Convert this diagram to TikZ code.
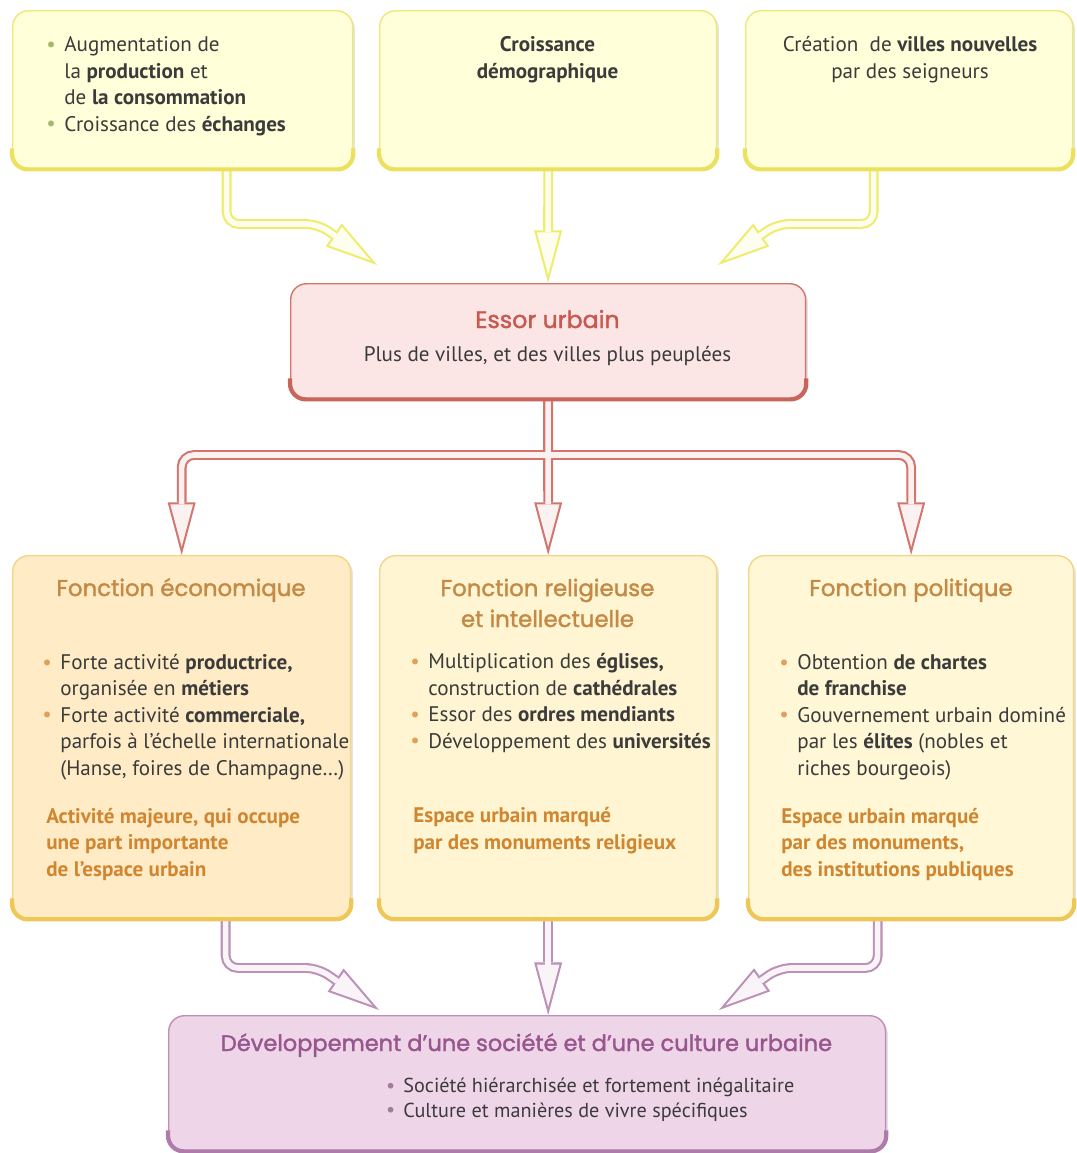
\documentclass[tikz,border=0pt]{standalone}
\usepackage{fontspec}
\setmainfont{PT Sans}
\newfontfamily\titlefont[FakeBold=1.6]{Poppins}
\usepackage{tikz}
\usetikzlibrary{arrows.meta, shadows}

\definecolor{texte}{HTML}{3B3B3B}
\definecolor{jauneBord}{HTML}{EDE977}
\definecolor{jauneSocle}{HTML}{ECE15E}
\definecolor{jauneFond}{HTML}{FFFFDA}
\definecolor{jauneFleche}{HTML}{EFEC6C}
\definecolor{rougeBord}{HTML}{D3756D}
\definecolor{rougeSocle}{HTML}{C9645B}
\definecolor{rougeFond}{HTML}{FBE6E5}
\definecolor{rougeTitre}{HTML}{C75A50}
\definecolor{orBord}{HTML}{F1D685}
\definecolor{orSocle}{HTML}{EEC757}
\definecolor{orFondA}{HTML}{FFEBC6}
\definecolor{orFondB}{HTML}{FFF5D2}
\definecolor{orFondC}{HTML}{FFF7D6}
\definecolor{ocre}{HTML}{C48A45}
\definecolor{conclu}{HTML}{D08630}
\definecolor{mauveBord}{HTML}{BC90B7}
\definecolor{mauveSocle}{HTML}{AF7BAA}
\definecolor{mauveFond}{HTML}{EFD5E8}
\definecolor{mauveTitre}{HTML}{98568F}
\definecolor{puceVert}{HTML}{A5B86C}
\definecolor{puceOr}{HTML}{DFA05A}
\definecolor{puceMauve}{HTML}{A27A9E}

\newcommand{\puce}[1]{\llap{\textcolor{#1}{\raisebox{0.05ex}{\textbullet}}\hspace{0.4em}}}

\tikzset{
  ombre/.style={drop shadow={shadow xshift=1.3pt, shadow yshift=-1.3pt, fill=black!35, opacity=0.3}},
  boite/.style={draw=#1, line width=0.8pt, rounded corners=9pt,
    anchor=north west, inner sep=0pt, ombre},
  socle/.style={draw=#1, line width=2.4pt, rounded corners=9pt},
  tuyau/.style={draw=#1, line width=5.6pt, rounded corners=7pt,
    -{Triangle[length=30pt, width=16pt, line width=0pt]}},
  creux/.style={draw=#1!10!white, line width=3.2pt, rounded corners=7pt, shorten >=4.65pt,
    -{Triangle[length=24.1pt, width=12.9pt, line width=0pt]}},
  corps/.style={text=texte, align=left, inner sep=0pt, anchor=base west,
    font=\fontsize{12}{15}\selectfont},
  conclusion/.style={corps, text=conclu, font=\fontsize{12}{15}\selectfont\bfseries},
  titre/.style={inner sep=0pt, anchor=base, align=center,
    font=\titlefont\fontsize{13}{17.6}\selectfont},
}

\begin{document}
\begin{tikzpicture}[x=0.02cm, y=-0.02cm]
  \useasboundingbox (0,0) rectangle (1076,1153);
  % causes
  \node[boite=jauneBord, fill=jauneFond, minimum width=6.8cm, minimum height=3.16cm] (prod) at (12,10) {};
  \node[boite=jauneBord, fill=jauneFond, minimum width=6.74cm, minimum height=3.16cm] (demo) at (379,10) {};
  \node[boite=jauneBord, fill=jauneFond, minimum width=6.54cm, minimum height=3.16cm] (villes) at (745,10) {};
  % essor
  \node[boite=rougeBord, fill=rougeFond, minimum width=10.3cm, minimum height=2.3cm] (essor) at (290,283) {};
  % fonctions
  \node[boite=orBord, fill=orFondA, minimum width=6.76cm, minimum height=7.26cm] (eco) at (12,555) {};
  \node[boite=orBord, fill=orFondB, minimum width=6.74cm, minimum height=7.26cm] (relig) at (379,555) {};
  \node[boite=orBord, fill=orFondC, minimum width=6.5cm, minimum height=7.26cm] (pol) at (748,555) {};
  % societe
  \node[boite=mauveBord, fill=mauveFond, minimum width=14.34cm, minimum height=2.7cm] (societe) at (168,1015) {};

  % textes (ancre base = derniere ligne)
  \node[corps] (prodTxt) at (64,131) {\puce{puceVert}Augmentation de\\la \textbf{production} et\\de \textbf{la consommation}\\\puce{puceVert}Croissance des \textbf{échanges}};
  \node[corps, anchor=base, align=center, font=\fontsize{12}{15}\selectfont\bfseries] (demoTxt) at (547.5,78) {Croissance\\démographique};
  \node[corps, anchor=base, align=center] (villesTxt) at (910,78) {Création~ de \textbf{villes nouvelles}\\par des seigneurs};

  \node[titre, text=rougeTitre, font=\titlefont\fontsize{13.5}{17.6}\selectfont] (essorTitre) at (547.5,328) {Essor urbain};
  \node[corps, anchor=base] (essorTxt) at (547.5,361) {Plus de villes, et des villes plus peuplées};

  \node[titre, text=ocre] (ecoTitre) at (181,596) {Fonction économique};
  \node[corps] (ecoTxt) at (60,775) {\puce{puceOr}Forte activité \textbf{productrice,}\\organisée en \textbf{métiers}\\\puce{puceOr}Forte activité \textbf{commerciale,}\\parfois à l'échelle internationale\\(Hanse, foires de Champagne\dots)};
  \node[conclusion] (ecoConclu) at (46,876) {Activité majeure, qui occupe\\une part importante\\de l'espace urbain};

  \node[titre, text=ocre] (religTitre) at (547.5,627) {Fonction religieuse\\et intellectuelle};
  \node[corps] (religTxt) at (428,748) {\puce{puceOr}Multiplication des \textbf{églises,}\\construction de \textbf{cathédrales}\\\puce{puceOr}Essor des \textbf{ordres mendiants}\\\puce{puceOr}Développement des \textbf{universités}};
  \node[conclusion] (religConclu) at (413,849) {Espace urbain marqué\\par des monuments religieux};

  \node[titre, text=ocre] (polTitre) at (911,596) {Fonction politique};
  \node[corps] (polTxt) at (797,775) {\puce{puceOr}Obtention \textbf{de chartes}\\\textbf{de franchise}\\\puce{puceOr}Gouvernement urbain dominé\\par les \textbf{élites} (nobles et\\riches bourgeois)};
  \node[conclusion] (polConclu) at (781,876) {Espace urbain marqué\\par des monuments,\\des institutions publiques};

  \node[titre, text=mauveTitre, font=\titlefont\fontsize{12.8}{15}\selectfont] (societeTitre) at (526.5,1051) {Développement d’une société et d’une culture urbaine};
  \node[corps, font=\fontsize{11.5}{13.7}\selectfont] (societeTxt) at (403,1117) {\puce{puceMauve}Société hiérarchisée et fortement inégalitaire\\\puce{puceMauve}Culture et manières de vivre spécifiques};

  % fleches
  \coordinate (entreeG) at (377,265);
  \coordinate (entreeD) at (718,265);
  \coordinate (jonction) at (547.5,455);
  \coordinate (sortieG) at (379,1010);
  \coordinate (sortieD) at (719,1010);
  \foreach \couche in {tuyau,creux} {
    % causes -> essor
    \draw[\couche=jauneFleche] ([xshift=0.88cm]prod.south) |- (318,224) -- (entreeG);
    \draw[\couche=jauneFleche] (demo.south) -- (essor.north);
    \draw[\couche=jauneFleche] ([xshift=-0.71cm]villes.south) |- (777,224) -- (entreeD);
    % essor -> fonctions
    \draw[\couche=rougeBord] (essor.south) -- (relig.north);
    \draw[\couche=rougeBord] (jonction) -| (eco.north);
    \draw[\couche=rougeBord] (jonction) -| (pol.north);
    % fonctions -> societe
    \draw[\couche=mauveBord] ([xshift=0.88cm]eco.south) |- (318,968) -- (sortieG);
    \draw[\couche=mauveBord] (relig.south) -- (relig.south |- societe.north);
    \draw[\couche=mauveBord] ([xshift=-0.67cm]pol.south) |- (779,968) -- (sortieD);
  }

  % socles
  \foreach \n/\c in {prod/jauneSocle, demo/jauneSocle, villes/jauneSocle, essor/rougeSocle,
                     eco/orSocle, relig/orSocle, pol/orSocle, societe/mauveSocle}
    \draw[socle=\c] ([yshift=12pt]\n.south west) -- (\n.south west) -- (\n.south east) -- ([yshift=12pt]\n.south east);
\end{tikzpicture}
\end{document}
